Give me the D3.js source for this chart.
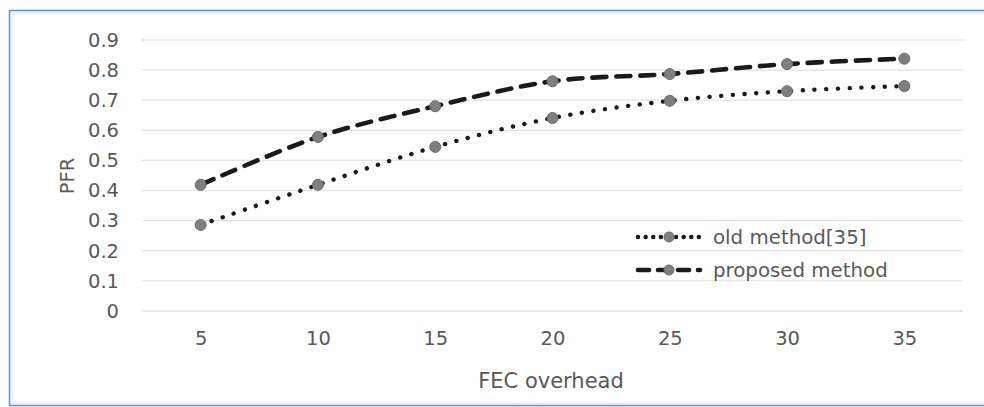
<!DOCTYPE html>
<html>
<head>
<meta charset="utf-8">
<script src="https://cdn.jsdelivr.net/npm/d3@7"></script>
<style>
  body { margin: 0; background: #fff; }
  text { font-family: "DejaVu Sans", "Open Sans", sans-serif; fill: #595959; }
</style>
</head>
<body>
<div id="chart"></div>
<script>
const overhead = [5, 10, 15, 20, 25, 30, 35]
const oldMethod = [0.286, 0.419, 0.545, 0.641, 0.698, 0.73, 0.747]
const proposedMethod = [0.419, 0.578, 0.68, 0.763, 0.787, 0.82, 0.838]
const yTicks = [0, 0.1, 0.2, 0.3, 0.4, 0.5, 0.6, 0.7, 0.8, 0.9]
const seriesNames = ['old method[35]', 'proposed method']

const W = 984, H = 407
const margin = { top: 40, right: 22, bottom: 96, left: 142 }
const width = 963 - margin.left
const height = 311 - margin.top

const svg = d3.select('#chart').append('svg')
  .attr('width', W).attr('height', H)

// frame
svg.append('rect').attr('x', 12).attr('y', 13).attr('width', 980).attr('height', 390)
  .attr('fill', 'none').attr('stroke', '#ececec').attr('stroke-width', 1.5)
svg.append('rect').attr('x', 9.5).attr('y', 10.5).attr('width', 990).attr('height', 395)
  .attr('fill', 'none').attr('stroke', '#5b9bd5').attr('stroke-width', 1.6)

const g = svg.append('g').attr('transform', `translate(${margin.left},${margin.top})`)

const x = d3.scalePoint().domain(overhead).range([0, width]).padding(0.5)
const y = d3.scaleLinear().domain([0, 0.9]).range([height, 0])

// gridlines
g.selectAll('.grid').data(yTicks).join('line')
  .attr('x1', 0).attr('x2', width)
  .attr('y1', d => y(d)).attr('y2', d => y(d))
  .attr('stroke', '#e3e3e3').attr('stroke-width', 1.3)

const yAxis = g.append('g')
  .call(d3.axisLeft(y).tickValues(yTicks).tickSize(0).tickPadding(23).tickFormat(d => d === 0 ? '0' : d3.format('.1f')(d)))
yAxis.select('.domain').remove()
yAxis.selectAll('text').style('font-size', '19.5px').attr('fill', '#595959')

const xAxis = g.append('g').attr('transform', `translate(0,${height})`)
  .call(d3.axisBottom(x).tickSize(0).tickPadding(20))
xAxis.select('.domain').remove()
xAxis.selectAll('text').style('font-size', '19.5px').attr('fill', '#595959')

// axis titles
svg.append('text').attr('x', 551).attr('y', 388).attr('text-anchor', 'middle')
  .style('font-size', '21px').text('FEC overhead')
svg.append('text').attr('transform', 'translate(74,176) rotate(-90)').attr('text-anchor', 'middle')
  .style('font-size', '19.5px').text('PFR')

const line = d3.line()
  .x((d, i) => x(overhead[i]))
  .y(d => y(d))
  .curve(d3.curveCatmullRom.alpha(0.5))

const styles = [
  { dash: '0.1 11.6', width: 4.4, cap: 'round' },
  { dash: '14 10', width: 4.6, cap: 'round' }
]

;[oldMethod, proposedMethod].forEach((vals, k) => {
  g.append('path').datum(vals)
    .attr('fill', 'none').attr('stroke', '#1a1a1a')
    .attr('stroke-width', styles[k].width)
    .attr('stroke-dasharray', styles[k].dash)
    .attr('stroke-linecap', styles[k].cap)
    .attr('d', line)
  g.selectAll('.m' + k).data(vals).join('circle')
    .attr('cx', (d, i) => x(overhead[i])).attr('cy', d => y(d))
    .attr('r', 5.5).attr('fill', '#7f7f7f').attr('stroke', '#6a6a6a').attr('stroke-width', 1)
})

// legend
const legend = svg.append('g').attr('transform', 'translate(636,237)')
seriesNames.forEach((name, k) => {
  const row = legend.append('g').attr('transform', `translate(0,${k * 33})`)
  row.append('line').attr('x1', 2).attr('x2', 64).attr('y1', 0).attr('y2', 0)
    .attr('stroke', '#1a1a1a').attr('stroke-width', styles[k].width)
    .attr('stroke-dasharray', k === 0 ? '0.1 7.5' : '11 9')
    .attr('stroke-linecap', 'round')
  row.append('circle').attr('cx', 33).attr('cy', 0).attr('r', 5)
    .attr('fill', '#7f7f7f').attr('stroke', '#6a6a6a')
  row.append('text').attr('x', 77).attr('y', 6.5).style('font-size', '19.8px').text(name)
})
</script>
</body>
</html>
